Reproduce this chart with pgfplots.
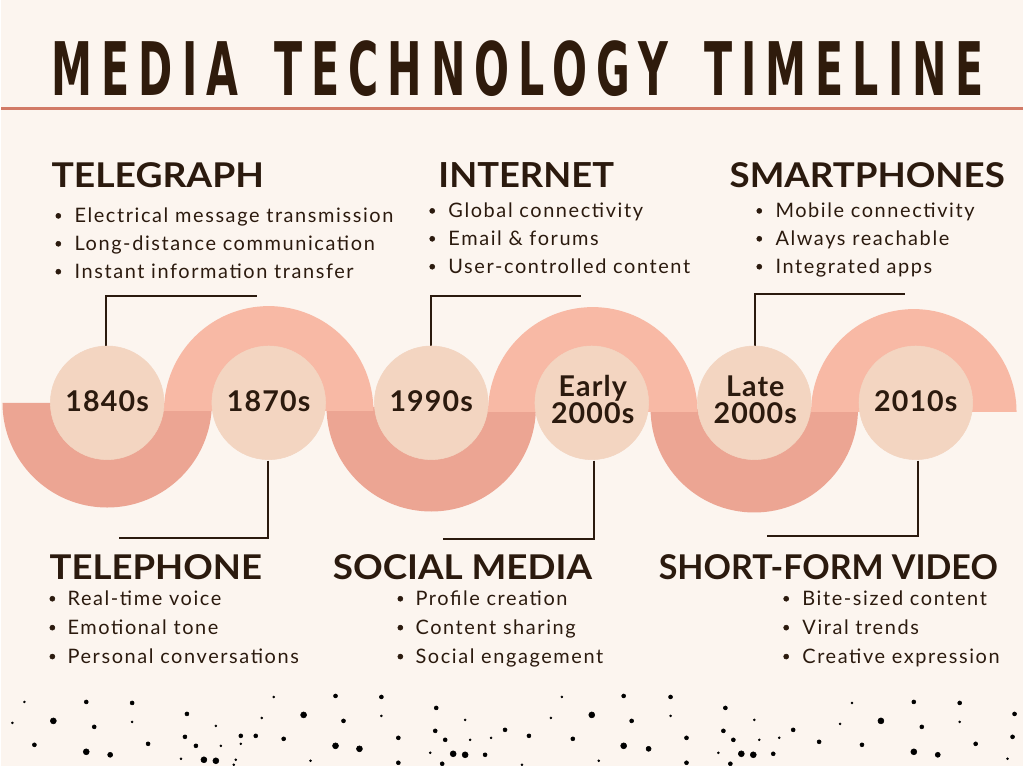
\documentclass[border=0pt]{standalone}
\usepackage{graphicx}
\usepackage{pgfplots}
\pgfplotsset{compat=1.18}
\usepackage{fontspec}
\setmainfont{Lato}
\newfontfamily\titlefont[LetterSpace=22]{DejaVu Sans}
\newfontfamily\bodyfont[LetterSpace=8]{Lato}
\newfontfamily\yearfont[LetterSpace=4]{Lato}
\definecolor{bgc}{HTML}{FCF5EF}
\definecolor{ttl}{HTML}{2F1B0C}
\definecolor{txt}{HTML}{2B1A0E}
\definecolor{uline}{HTML}{D27A66}
\definecolor{upc}{HTML}{F8B9A5}
\definecolor{lowc}{HTML}{ECA593}
\definecolor{circc}{HTML}{F3D5C1}
\newcommand{\bodyline}[3]{\node[anchor=base west, inner sep=0pt, text=txt, font=\bodyfont\fontsize{15pt}{18pt}\selectfont] at (axis cs:#1,#2) {#3};}
\newcommand{\heading}[4]{\node[anchor=base west, inner sep=0pt, text=txt] at (axis cs:#1,#2) {\resizebox{#3}{18.75pt}{\bfseries #4}};}
\newcommand{\yearlabel}[3]{\node[anchor=base, inner sep=0pt, text=txt, font=\yearfont\bfseries\fontsize{21.5pt}{24pt}\selectfont] at (axis cs:#1,#2) {#3};}
\begin{document}
\begin{tikzpicture}
\fill[bgc] (0,0) rectangle (768pt,576pt);
\begin{axis}[set layers, scale only axis, width=768pt, height=576pt,
  xmin=0, xmax=1024, ymin=0, ymax=768, hide axis, clip=false]
% title
\node[anchor=base west, inner sep=0pt, text=ttl] at (axis cs:50,672)
  {\resizebox{701.25pt}{41.25pt}{\titlefont\bfseries MEDIA\hspace{0.3em} TECHNOLOGY\hspace{0.3em} TIMELINE}};
\addplot[uline, line width=2.25pt, no marks] coordinates {(0,659.5) (1024,659.5)};
% lower arcs
\fill[lowc] (axis cs:1,364) arc[start angle=180,end angle=360,radius=78.75pt] -- cycle;
\fill[lowc] (axis cs:326,360) arc[start angle=180,end angle=360,radius=78.75pt] -- cycle;
\fill[lowc] (axis cs:651,358) arc[start angle=180,end angle=360,radius=78pt] -- cycle;
% upper arcs
\fill[upc] (axis cs:373,356) arc[start angle=0,end angle=180,radius=78.75pt] -- cycle;
\fill[upc] (axis cs:698,355) arc[start angle=0,end angle=180,radius=78.75pt] -- cycle;
\fill[upc] (axis cs:1018,355) arc[start angle=0,end angle=180,radius=77.25pt] -- cycle;
% circles
\addplot[only marks, mark=*, color=circc, mark size=42.75pt] coordinates {
 (106,364) (268,364) (431,364) (592,364) (755,364) (917,364)};
% connectors
\addplot[txt, line width=1.5pt, no marks] coordinates {(105,421) (105,471) (256,471)};
\addplot[txt, line width=1.5pt, no marks] coordinates {(267,306) (267,228) (118,228)};
\addplot[txt, line width=1.5pt, no marks] coordinates {(431,421) (431,471) (581,471)};
\addplot[txt, line width=1.5pt, no marks] coordinates {(594,306) (594,227) (443,227)};
\addplot[txt, line width=1.5pt, no marks] coordinates {(756,421) (756,473) (906,473)};
\addplot[txt, line width=1.5pt, no marks] coordinates {(919,306) (919,230) (768,230)};
% year labels
\begin{pgfonlayer}{axis foreground}
\yearlabel{106}{355}{1840s}
\yearlabel{268}{355}{1870s}
\yearlabel{431}{355}{1990s}
\yearlabel{593}{370}{Early}
\yearlabel{593}{343}{2000s}
\yearlabel{756}{370}{Late}
\yearlabel{756}{343}{2000s}
\yearlabel{917}{355}{2010s}
\end{pgfonlayer}
% headings
\heading{50}{580}{159.75pt}{TELEGRAPH}
\heading{438}{580}{132pt}{INTERNET}
\heading{730}{580}{207pt}{SMARTPHONES}
\heading{48}{187}{159.75pt}{TELEPHONE}
\heading{332}{187}{195pt}{SOCIAL MEDIA}
\heading{659}{187}{255pt}{SHORT-FORM VIDEO}
% bullets
\addplot[only marks, mark=*, color=txt, mark size=1.9pt] coordinates {
 (57,551.5) (57,523.5) (57,495.5)
 (432,556.5) (432,528.5) (432,500.5)
 (760,556.5) (760,528.5) (760,500.5)
 (51,167.5) (51,138.5) (51,109.5)
 (400,167.5) (400,138.5) (400,109.5)
 (787,167.5) (787,138.5) (787,109.5)};
% body text
\bodyline{73}{545}{Electrical message transmission}
\bodyline{73}{517}{Long-distance communication}
\bodyline{73}{489}{Instant information transfer}
\bodyline{448}{550}{Global connectivity}
\bodyline{448}{522}{Email \& forums}
\bodyline{448}{494}{User-controlled content}
\bodyline{776}{550}{Mobile connectivity}
\bodyline{776}{522}{Always reachable}
\bodyline{776}{494}{Integrated apps}
\bodyline{66}{161}{Real-time voice}
\bodyline{66}{132}{Emotional tone}
\bodyline{66}{103}{Personal conversations}
\bodyline{415}{161}{Profile creation}
\bodyline{415}{132}{Content sharing}
\bodyline{415}{103}{Social engagement}
\bodyline{803}{161}{Bite-sized content}
\bodyline{803}{132}{Viral trends}
\bodyline{803}{103}{Creative expression}
% dots
\addplot[only marks, mark=*, color=black, mark size=0.75pt] coordinates {
 (23,64) (11,43) (131,44) (215,40) (220,20) (240,22) (261,48) (273,69)
 (180,7) (235,6) (233,1) (310,5) (381,50) (465,46) (562,69) (671,50)
 (551,48) (470,26) (491,28) (430,13) (522,1) (599,5) (755,46) (760,26)
 (780,28) (719,13) (853,63) (841,42) (961,44) (1009,7)};
\addplot[only marks, mark=*, color=black, mark size=1.5pt] coordinates {
 (85,64) (131,63) (93,39) (33,21) (147,22) (186,52) (184,29) (195,20)
 (240,30) (255,30) (283,27) (335,70) (343,45) (381,69) (436,58) (624,70)
 (671,69) (632,45) (398,28) (435,35) (445,26) (505,36) (529,30) (573,27)
 (485,11) (398,3) (442,2) (687,3) (687,28) (726,58) (724,35) (734,26)
 (794,36) (820,24) (774,12) (731,2) (915,64) (961,63) (923,39) (863,21)
 (977,22) (1016,52) (1014,29)};
\addplot[only marks, mark=*, color=black, mark size=1.9pt] coordinates {
 (109,11) (649,17) (939,11)};
\addplot[only marks, mark=*, color=black, mark size=2.25pt] coordinates {
 (52,45) (85,14) (303,51) (335,20) (203,6) (215,5) (359,17) (592,51)
 (624,20) (453,12) (465,11) (742,12) (754,11) (882,45) (915,14)};
\end{axis}
\end{tikzpicture}
\end{document}
